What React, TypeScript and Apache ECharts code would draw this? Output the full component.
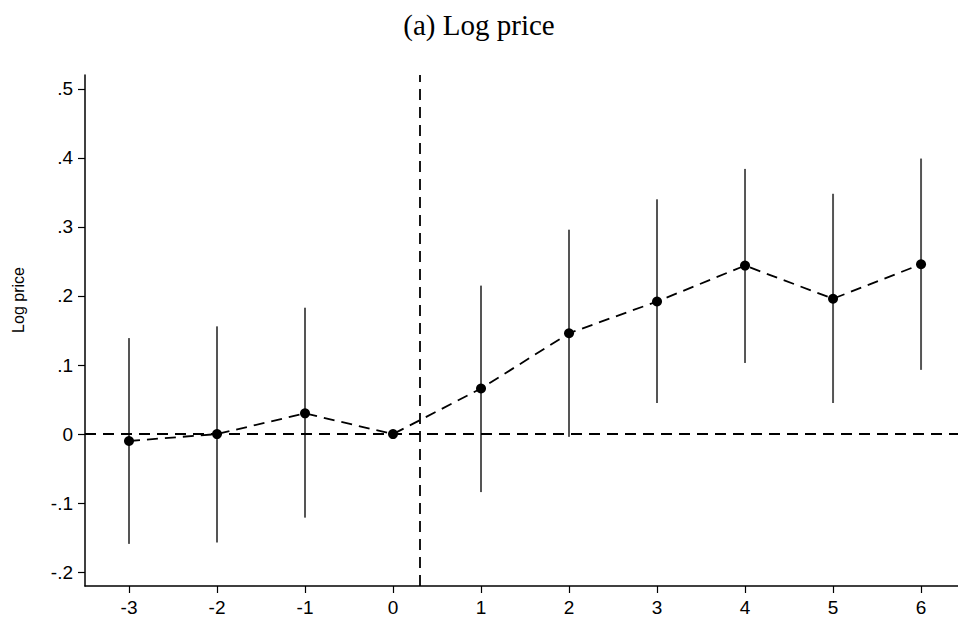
import React, { useEffect, useRef } from "react";
import * as echarts from "echarts";

const periods = [-3, -2, -1, 0, 1, 2, 3, 4, 5, 6];
const coef = [-0.01, 0.0, 0.03, 0.0, 0.066, 0.146, 0.192, 0.244, 0.196, 0.246];
const ciLow = [-0.159, -0.157, -0.121, null, -0.084, -0.004, 0.045, 0.103, 0.045, 0.093];
const ciHigh = [0.139, 0.156, 0.183, null, 0.215, 0.296, 0.34, 0.384, 0.348, 0.399];
const yTicks = [-0.2, -0.1, 0, 0.1, 0.2, 0.3, 0.4, 0.5];
const xTicks = [-3, -2, -1, 0, 1, 2, 3, 4, 5, 6];
const treatmentLine = 0.3;
const titleText = "(a) Log price";
const yName = "Log price";

const fmtY = (v: number) => {
  if (Math.abs(v) < 1e-9) return "0";
  const s = Math.abs(v).toFixed(1).replace(/^0/, "");
  return (v < 0 ? "-" : "") + s;
};

export default function App() {
  const ref = useRef<HTMLDivElement>(null);
  useEffect(() => {
    document.body.style.margin = "0";
    if (!ref.current) return;
    const chart = echarts.init(ref.current, null, { renderer: "svg" });
    const dash = [11, 7];
    const ciData = periods
      .map((p, i) => [p, ciLow[i], ciHigh[i]])
      .filter((d) => d[1] !== null && d[2] !== null);
    chart.setOption({
      animation: false,
      backgroundColor: "#fff",
      title: {
        text: titleText,
        left: "center",
        top: 5,
        textStyle: {
          fontFamily: "Liberation Serif",
          fontSize: 29,
          fontWeight: "normal",
          color: "#000",
        },
      },
      graphic: [
        {
          type: "text",
          x: 18,
          y: 300,
          rotation: Math.PI / 2,
          style: {
            text: yName,
            fontFamily: "Liberation Sans",
            fontSize: 16,
            fill: "#000",
            align: "center",
            verticalAlign: "middle",
          },
        },
      ],
      grid: { left: 85, right: 0, top: 75, bottom: 35, outerBoundsMode: "none" },
      xAxis: {
        type: "value",
        min: -3.5,
        max: 6.42,
        interval: 0.5,
        splitLine: { show: false },
        axisLine: { show: true, onZero: false, lineStyle: { color: "#000", width: 1.5 } },
        axisTick: { show: true, length: 7, customValues: xTicks, lineStyle: { color: "#000", width: 1.2 } },
        axisLabel: {
          customValues: xTicks,
          margin: 12,
          fontFamily: "Liberation Sans",
          fontSize: 19,
          color: "#000",
          formatter: (v: number) => String(v),
        },
      },
      yAxis: {
        type: "value",
        min: -0.22,
        max: 0.52,
        interval: 0.02,
        splitLine: { show: false },
        axisLine: { show: true, onZero: false, lineStyle: { color: "#000", width: 1.5 } },
        axisTick: { show: true, length: 7, customValues: yTicks, lineStyle: { color: "#000", width: 1.2 } },
        axisLabel: {
          customValues: yTicks,
          margin: 12,
          fontFamily: "Liberation Sans",
          fontSize: 19,
          color: "#000",
          formatter: (v: number) => fmtY(v),
        },
      },
      series: [
        {
          type: "custom",
          data: ciData,
          encode: { x: 0, y: [1, 2] },
          z: 2,
          renderItem: (params: any, api: any) => {
            const x = api.value(0);
            const p1 = api.coord([x, api.value(1)]);
            const p2 = api.coord([x, api.value(2)]);
            return {
              type: "line",
              shape: { x1: p1[0], y1: p1[1], x2: p2[0], y2: p2[1] },
              style: { stroke: "#555", lineWidth: 2 },
            };
          },
        },
        {
          type: "line",
          data: periods.map((p, i) => [p, coef[i]]),
          z: 3,
          symbol: "circle",
          symbolSize: 10,
          itemStyle: { color: "#000" },
          lineStyle: { color: "#000", width: 1.8, type: dash },
          markLine: {
            silent: true,
            symbol: "none",
            label: { show: false },
            lineStyle: { color: "#000", width: 1.8, type: dash },
            data: [{ yAxis: 0 }, { xAxis: treatmentLine }],
          },
        },
      ],
    });
    return () => chart.dispose();
  }, []);
  return (
    <div
      ref={ref}
      style={{ width: 958, height: 621, position: "absolute", left: 0, top: 0 }}
    />
  );
}
